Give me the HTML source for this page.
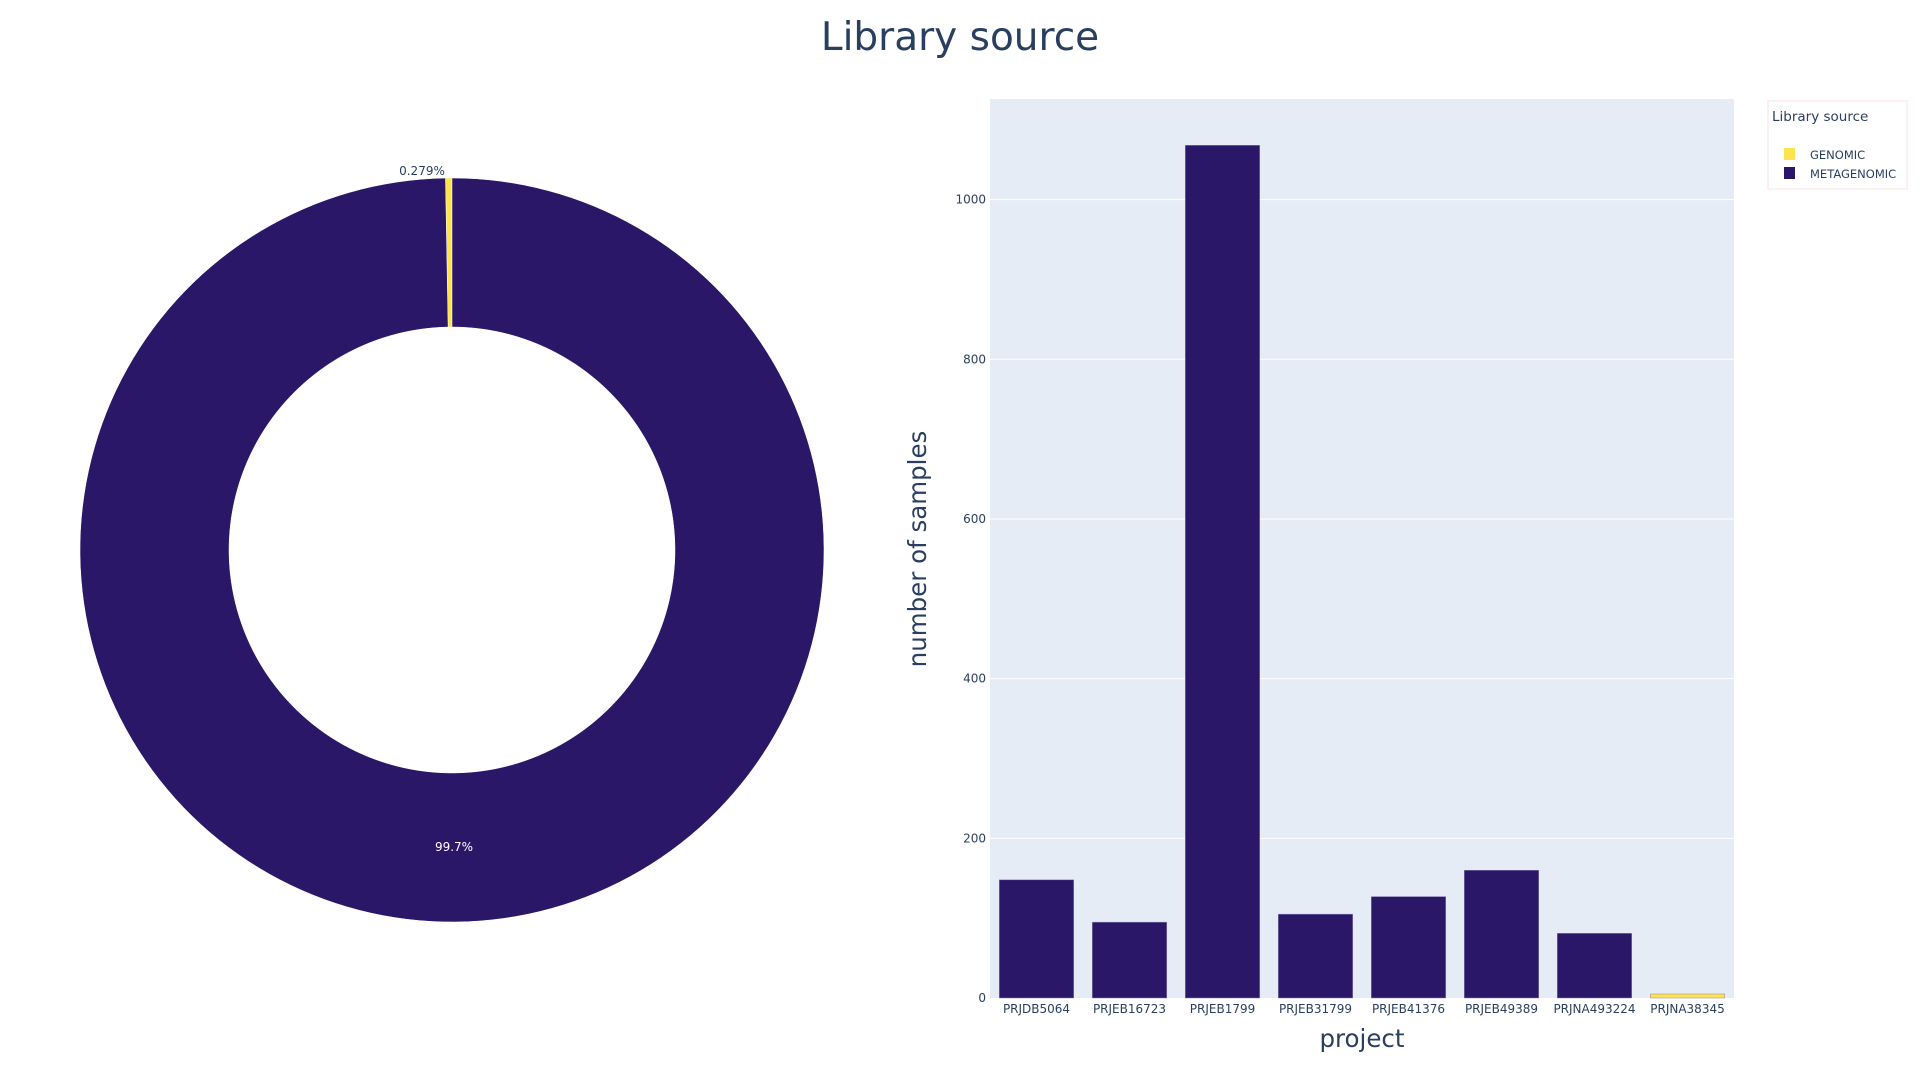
<!DOCTYPE html>
<html><head><meta charset="utf-8"><style>
body{margin:0;background:#fff;}
svg{display:block;font-family:"DejaVu Sans","Liberation Sans",sans-serif;}
</style></head><body>
<svg id="chart" width="1920" height="1080" viewBox="0 0 1920 1080">
<text x="960" y="50" text-anchor="middle" font-size="39" fill="#2a3f5f">Library source</text>
<g id="pie"></g>
<rect x="990" y="99" width="744" height="899" fill="#e5ecf6"/>
<g id="grid"></g>
<g id="bars"></g>
<g id="xticks"></g>
<g id="yticks"></g>
<text transform="translate(926,549) rotate(-90)" text-anchor="middle" font-size="24.5" fill="#2a3f5f">number of samples</text>
<text x="1362" y="1047" text-anchor="middle" font-size="24.5" fill="#2a3f5f">project</text>
<g>
<rect x="1768" y="101" width="139" height="88" fill="#fff" stroke="#ffeef2" stroke-width="2"/>
<text x="1772" y="121" font-size="13.5" fill="#2a3f5f">Library source</text>
<g><rect x="1784" y="148" width="11" height="12" fill="#fde44f"/><text x="1810" y="159" font-size="11.5" fill="#2a3f5f">GENOMIC</text></g>
<g><rect x="1784" y="167" width="11" height="12" fill="#2a1768"/><text x="1810" y="178" font-size="11.5" fill="#2a3f5f">METAGENOMIC</text></g>
</g>
</svg>
<script>
const categories=["PRJDB5064","PRJEB16723","PRJEB1799","PRJEB31799","PRJEB41376","PRJEB49389","PRJNA493224","PRJNA38345"];
const metagenomicValues=[148,95,1068,105,127,160,81,0];
const genomicValues=[0,0,0,0,0,0,0,5];
const yTicks=[0,200,400,600,800,1000];
const pieLabels=["GENOMIC","METAGENOMIC"];
const pieValues=[5,1784];
const NS="http://www.w3.org/2000/svg";
const px0=990,px1=1734,py0=998,py1=99,yMax=1126;
const y=v=>py0-(v/yMax)*(py0-py1);
const band=(px1-px0)/categories.length;
const xc=i=>px0+band*(i+0.5);
function mk(tag,attrs,parent){const e=document.createElementNS(NS,tag);for(const k in attrs)e.setAttribute(k,attrs[k]);parent.appendChild(e);return e;}
const grid=document.getElementById('grid'),yt=document.getElementById('yticks');
yTicks.forEach(t=>{
 if(t>0){const l=mk('line',{x1:px0,x2:px1,y1:y(t),y2:y(t),stroke:'#fff','stroke-width':1},grid);
 
 }
 const tx=mk('text',{x:986,y:y(t)+4,'text-anchor':'end','font-size':12,fill:'#2a3f5f'},yt);
 tx.textContent=t;
 
 
});
const bars=document.getElementById('bars'),xt=document.getElementById('xticks');
const bw=band*0.8;
categories.forEach((c,i)=>{
 let base=0;
 [[metagenomicValues[i],'#2a1768','metagenomic'],[genomicValues[i],'#fde44f','genomic']].forEach(([v,col,nm])=>{
  if(v<=0)return;
  const r=mk('rect',{x:xc(i)-bw/2,y:y(base+v),width:bw,height:y(base)-y(base+v),fill:col,stroke:'#8e83b0','stroke-width':0.5},bars);
  
  
  base+=v;
 });
 const t=mk('text',{x:xc(i),y:1013,'text-anchor':'middle','font-size':12,fill:'#2a3f5f'},xt);
 t.textContent=c;
 
 
});
const pie=document.getElementById('pie');
const cx=452,cy=550,R=372,r0=223;
const total=pieValues.reduce((a,b)=>a+b,0);
const colors=['#fde44f','#2a1768'];
let ang=0;
function pt(a,rad){return [cx-rad*Math.sin(a*Math.PI/180), cy-rad*Math.cos(a*Math.PI/180)];}
pieValues.forEach((v,i)=>{
 const a0=ang,a1=ang+v/total*360;ang=a1;
 const large=(a1-a0)>180?1:0;
 const p0=pt(a0,R),p1=pt(a1,R),q1=pt(a1,r0),q0=pt(a0,r0);
 const d=`M${p0[0]},${p0[1]} A${R},${R} 0 ${large} 0 ${p1[0]},${p1[1]} L${q1[0]},${q1[1]} A${r0},${r0} 0 ${large} 1 ${q0[0]},${q0[1]} Z`;
 const p=mk('path',{d:d,fill:colors[i],stroke:'#fff','stroke-width':0.5},pie);
 
 
});
const pct=pieValues.map(v=>v/total*100);
const t1=mk('text',{x:422,y:175,'text-anchor':'middle','font-size':12,fill:'#2a3f5f'},pie);
t1.textContent=pct[0].toFixed(3)+'%';


const t2=mk('text',{x:454,y:851,'text-anchor':'middle','font-size':12,fill:'#fff'},pie);
t2.textContent=pct[1].toFixed(1)+'%';


</script>
</body></html>
